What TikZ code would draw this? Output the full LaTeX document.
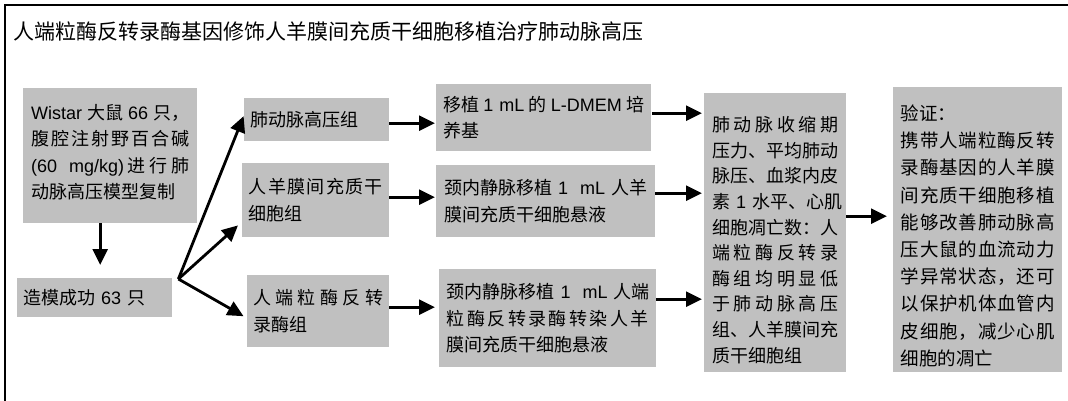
\documentclass[tikz,border=0pt]{standalone}
\usepackage{fontspec}
\setmainfont{Liberation Sans}
\newfontfamily\cjk{Noto Sans CJK SC}
\newfontfamily\latf{Liberation Sans}
\usetikzlibrary{arrows.meta}
\definecolor{boxgray}{HTML}{C0C0C0}
\newcommand\lat[1]{{\latf#1}}
\def\jend{}
\def\jendm{\jend}
\def\jfirst#1{#1\jrest}
\def\jrest#1{\def\jtmp{#1}\ifx\jtmp\jendm\else\hskip0pt plus1fil #1\expandafter\jrest\fi}
\newcommand\jline[1]{\makebox[\linewidth][s]{\jfirst#1\jend}}
\tikzset{
  box/.style={fill=boxgray, inner sep=0pt, anchor=north west, align=left,
    font=\cjk\fontsize{18}{26.5}\selectfont},
  arr/.style={line width=2.8pt, -{Triangle[length=16pt,width=15pt]}},
  frameline/.style={line width=1.5pt}
}
\begin{document}
\begin{tikzpicture}[x=1pt,y=-1pt]
\useasboundingbox (0,0) rectangle (1068,401);
\draw[frameline] (5,401) -- (5,5) -- (1068,5);
\node[anchor=west, inner sep=0pt, font=\cjk\fontsize{21}{25}\selectfont] (title) at (13,32)
  {人端粒酶反转录酶基因修饰人羊膜间充质干细胞移植治疗肺动脉高压};

\node[box, minimum width=174pt, minimum height=135pt, text width=158pt] (A) at (23,88)
  {\jline{{\lat{Wistar}}{大鼠}{\lat{66}}{只，}}\\
   \jline{腹腔注射野百合碱}\\
   \jline{{\lat{(60\ \ mg/kg)}}进行肺}\\
   动脉高压模型复制\rule[-9pt]{0pt}{9pt}};
\node[box, minimum width=155pt, minimum height=39pt, text width=143pt] (B) at (17,278)
  {造模成功 \lat{63} 只};

\node[box, minimum width=145pt, minimum height=43pt, text width=133pt] (C1) at (244,98)
  {肺动脉高压组};
\node[box, minimum width=147pt, minimum height=74pt, text width=134pt] (C2) at (242,163)
  {\jline{人羊膜间充质干}\\细胞组};
\node[box, minimum width=142pt, minimum height=72pt, text width=130pt] (C3) at (247,275)
  {\jline{人端粒酶反转}\\录酶组};

\node[box, minimum width=215pt, minimum height=67pt, text width=201pt] (D1) at (436,84)
  {\jline{{移植}{\lat{1 mL}}{的}{\lat{L-DMEM}}{培}}\\养基};
\node[box, minimum width=219pt, minimum height=72pt, text width=203pt] (D2) at (436,165)
  {\jline{颈内静脉移植{\lat{\ 1\ \ mL\ }}人羊}\\膜间充质干细胞悬液};
\node[box, minimum width=217pt, minimum height=98pt, text width=202pt] (D3) at (439,269)
  {\jline{颈内静脉移植{\lat{\ 1\ \ mL\ }}人端}\\
   \jline{粒酶反转录酶转染人羊}\\
   膜间充质干细胞悬液};

\node[box, minimum width=142pt, minimum height=279pt, text width=126pt,
      font=\cjk\fontsize{18}{25.6}\selectfont] (E) at (704,93)
  {\rule{0pt}{30pt}\jline{肺动脉收缩期}\\
   \jline{压力、平均肺动}\\
   \jline{脉压、血浆内皮}\\
   \jline{素{\lat{\ 1\ }}水平、心肌}\\
   \jline{细胞凋亡数：人}\\
   \jline{端粒酶反转录}\\
   \jline{酶组均明显低}\\
   \jline{于肺动脉高压}\\
   \jline{组、人羊膜间充}\\
   质干细胞组};
\node[box, minimum width=169pt, minimum height=285pt, text width=154pt,
      font=\cjk\fontsize{18.5}{27.2}\selectfont] (F) at (893,87)
  {\rule{0pt}{28pt}验证：\\
   \jline{携带人端粒酶反转}\\
   \jline{录酶基因的人羊膜}\\
   \jline{间充质干细胞移植}\\
   \jline{能够改善肺动脉高}\\
   \jline{压大鼠的血流动力}\\
   \jline{学异常状态，还可}\\
   \jline{以保护机体血管内}\\
   \jline{皮细胞，减少心肌}\\
   细胞的凋亡};

% A -> B
\draw[arr, shorten >=13pt] ([xshift=-10pt]A.south) -- ([xshift=-10pt]A.south |- B.north);
% fan
\coordinate (fan) at ([xshift=6pt,yshift=-1pt]B.north east);
\draw[arr, shorten >=1pt] (fan) -- ([yshift=4.5pt]C1.west);
\draw[arr] (fan) -- ([xshift=-4pt,yshift=12pt]C2.south west);
\draw[arr, shorten >=4pt] (fan) -- ([yshift=-7pt]C3.west);
% C -> D
\draw[arr] ([yshift=-3.5pt]C1.east) -- ([yshift=-5.5pt,xshift=-1pt]D1.west);
\draw[arr] ([yshift=3pt]C2.east) -- ([yshift=4pt,xshift=-1pt]D2.west);
\draw[arr] ([yshift=4pt]C3.east) -- ([yshift=11pt,xshift=-4pt]D3.west);
% D -> E
\draw[arr] ([yshift=4.5pt,xshift=1pt]D1.east) -- ([yshift=4.5pt,xshift=-2pt]D1.east -| E.west);
\draw[arr] ([yshift=8pt]D2.east) -- ([yshift=8pt,xshift=-2pt]D2.east -| E.west);
\draw[arr] ([yshift=19pt]D3.east) -- ([yshift=19pt,xshift=-2pt]D3.east -| E.west);
% E -> F
\draw[arr] ([yshift=16.5pt]E.east) -- ([yshift=16.5pt,xshift=-6pt]E.east -| F.west);
\end{tikzpicture}
\end{document}
